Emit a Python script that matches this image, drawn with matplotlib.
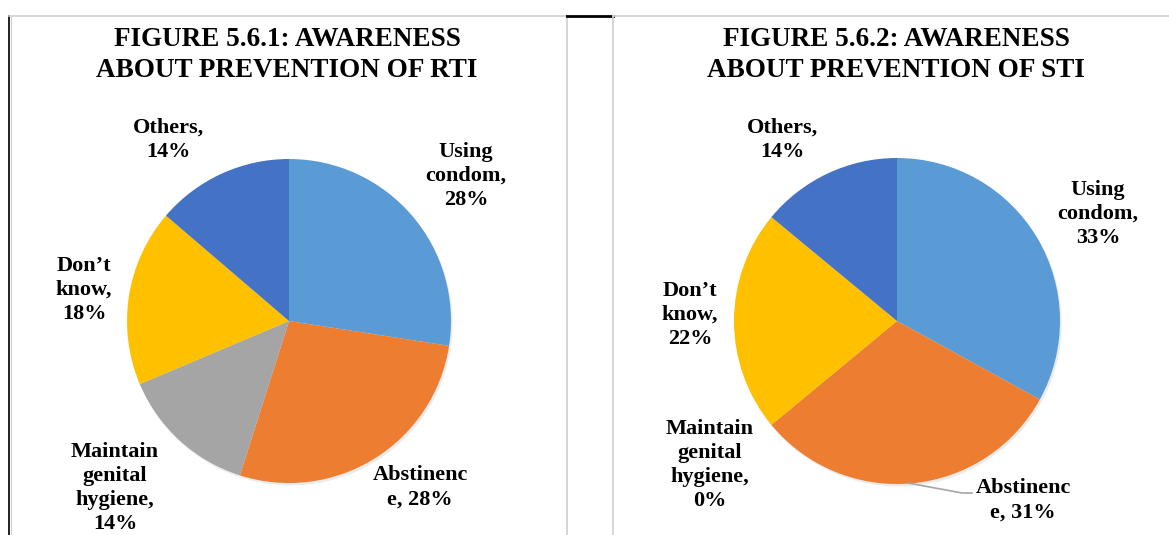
import numpy as np
import matplotlib.pyplot as plt
from matplotlib.lines import Line2D

# 数据
labels = ["Using condom", "Abstinence", "Maintain genital hygiene", "Don't know", "Others"]
rti_values = [28, 28, 14, 18, 14]
sti_values = [33, 31, 0, 22, 14]
colors = ["#5B9BD5", "#ED7D31", "#A5A5A5", "#FFC000", "#4472C4"]

rti_texts = ["Using\ncondom,\n28%", "Abstinenc\ne, 28%", "Maintain\ngenital\nhygiene,\n14%",
             "Don\u2019t\nknow,\n18%", "Others,\n14%"]
sti_texts = ["Using\ncondom,\n33%", "Abstinenc\ne, 31%", "Maintain\ngenital\nhygiene,\n0%",
             "Don\u2019t\nknow,\n22%", "Others,\n14%"]

W, H = 1169, 535
plt.rcParams['font.family'] = ['Liberation Serif', 'DejaVu Serif']

fig = plt.figure(figsize=(W / 100, H / 100), dpi=100)


def px(x, y):
    """像素坐标 -> figure坐标"""
    return x / W, 1 - y / H


def draw_pie(values, texts, cx, cy, r, label_pos, title, title_x):
    ax = fig.add_axes([(cx - r) / W, 1 - (cy + r) / H, 2 * r / W, 2 * r / H])
    # 阴影
    ax.pie([1], radius=1.0, colors=["#d8d8d8"], center=(0.01, -0.015),
           wedgeprops=dict(linewidth=0, alpha=0.5))
    ax.pie(values, colors=colors, startangle=90, counterclock=False,
           radius=1.0, wedgeprops=dict(linewidth=0))
    ax.set_xlim(-1.0, 1.0)
    ax.set_ylim(-1.0, 1.0)
    ax.set_aspect('equal')
    ax.axis('off')
    for t, (x, y) in zip(texts, label_pos):
        fig.text(*px(x, y), t, ha='center', va='center', fontsize=16,
                 fontweight='bold', linespacing=1.28, color='#000000')
    fig.text(*px(title_x, 55), title, ha='center', va='center', fontsize=19.5,
             fontweight='bold', linespacing=1.3)


draw_pie(rti_values, rti_texts, 289, 321, 162,
         [(466, 176), (420, 487), (115, 488), (84, 290), (168, 140)],
         "FIGURE 5.6.1: AWARENESS\nABOUT PREVENTION OF RTI", 287)
draw_pie(sti_values, sti_texts, 897, 321, 163,
         [(1098, 214), (1023, 500), (710, 465), (690, 315), (782, 140)],
         "FIGURE 5.6.2: AWARENESS\nABOUT PREVENTION OF STI", 896)

# 引导线
fig.add_artist(Line2D([908 / W, 962 / W, 972 / W], [1 - 483 / H, 1 - 493 / H, 1 - 493 / H],
                      color='#a6a6a6', lw=1.2))

# 边框
grey = '#d0d0d0'
top = 1 - 15.5 / H
fig.add_artist(Line2D([9 / W, 9 / W], [0, top], color='#101010', lw=1.3))
fig.add_artist(Line2D([11 / W, 11 / W], [0, top], color=grey, lw=0.8))
fig.add_artist(Line2D([9 / W, 567 / W], [top, top], color=grey, lw=1.2))
fig.add_artist(Line2D([567 / W, 567 / W], [0, top], color=grey, lw=1.2))
fig.add_artist(Line2D([567 / W, 613 / W], [top, top], color='#000000', lw=2))
fig.add_artist(Line2D([613 / W, 613 / W], [0, top], color=grey, lw=1.2))
fig.add_artist(Line2D([613 / W, 1], [top, top], color=grey, lw=1.2))

plt.savefig('out.png', dpi=100)
